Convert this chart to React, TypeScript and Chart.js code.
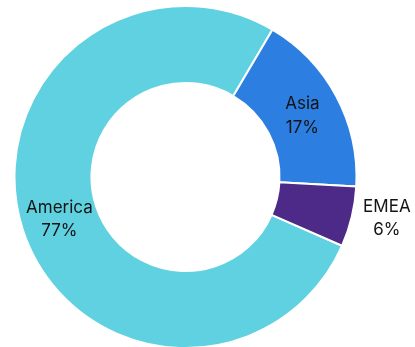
import React, { useEffect, useRef } from "react";
import { Chart, registerables } from "chart.js";

Chart.register(...registerables);

const categories = ["America", "Asia", "EMEA"];
const shares = [76.9, 17.4, 5.7];
const colors = ["#60D1E0", "#2D7EE1", "#4D2A87"];

const labelPlugin = {
  id: "sliceLabels",
  afterDatasetsDraw(chart: any) {
    const ctx = chart.ctx;
    const meta = chart.getDatasetMeta(0);
    const data = chart.data.datasets[0].data as number[];
    const total = data.reduce((a, b) => a + b, 0);
    ctx.save();
    ctx.font = "17px Inter, 'Noto Sans', sans-serif";
    ctx.fillStyle = "#141414";
    ctx.textAlign = "center";
    ctx.textBaseline = "alphabetic";
    meta.data.forEach((arc: any, i: number) => {
      const p = arc.getProps(["x", "y", "startAngle", "endAngle", "innerRadius", "outerRadius"], true);
      const pct = (data[i] / total) * 100;
      const mid = (p.startAngle + p.endAngle) / 2;
      const outside = pct < 10;
      const r = outside ? p.outerRadius + 34 : (p.innerRadius + p.outerRadius) / 2;
      const cx = p.x + Math.cos(mid) * r + (outside ? 2 : 0);
      const cy = p.y + Math.sin(mid) * r - (outside ? 8 : 0);
      ctx.fillText(String(chart.data.labels[i]), cx, cy - 5);
      ctx.fillText(Math.round(pct) + "%", cx, cy + 18.5);
    });
    ctx.restore();
  },
};

export default function App() {
  const ref = useRef<HTMLCanvasElement>(null);
  useEffect(() => {
    if (!ref.current) return;
    const chart = new Chart(ref.current, {
      type: "doughnut",
      data: {
        labels: categories,
        datasets: [
          {
            data: shares,
            backgroundColor: colors,
            borderColor: "#ffffff",
            borderWidth: 2,
          },
        ],
      },
      options: {
        animation: false,
        responsive: true,
        maintainAspectRatio: false,
        rotation: 113.7,
        cutout: "55%",
        layout: { padding: { top: 5, bottom: 0, left: 13, right: 57 } },
        plugins: {
          legend: { display: false },
          tooltip: { enabled: false },
        },
      },
      plugins: [labelPlugin],
    });
    return () => chart.destroy();
  }, []);
  return (
    <div style={{ position: "fixed", left: 0, top: 0, width: 415, height: 347, overflow: "hidden", background: "#fff" }}>
      <div style={{ position: "relative", width: 415, height: 349 }}>
        <canvas ref={ref} />
      </div>
    </div>
  );
}
